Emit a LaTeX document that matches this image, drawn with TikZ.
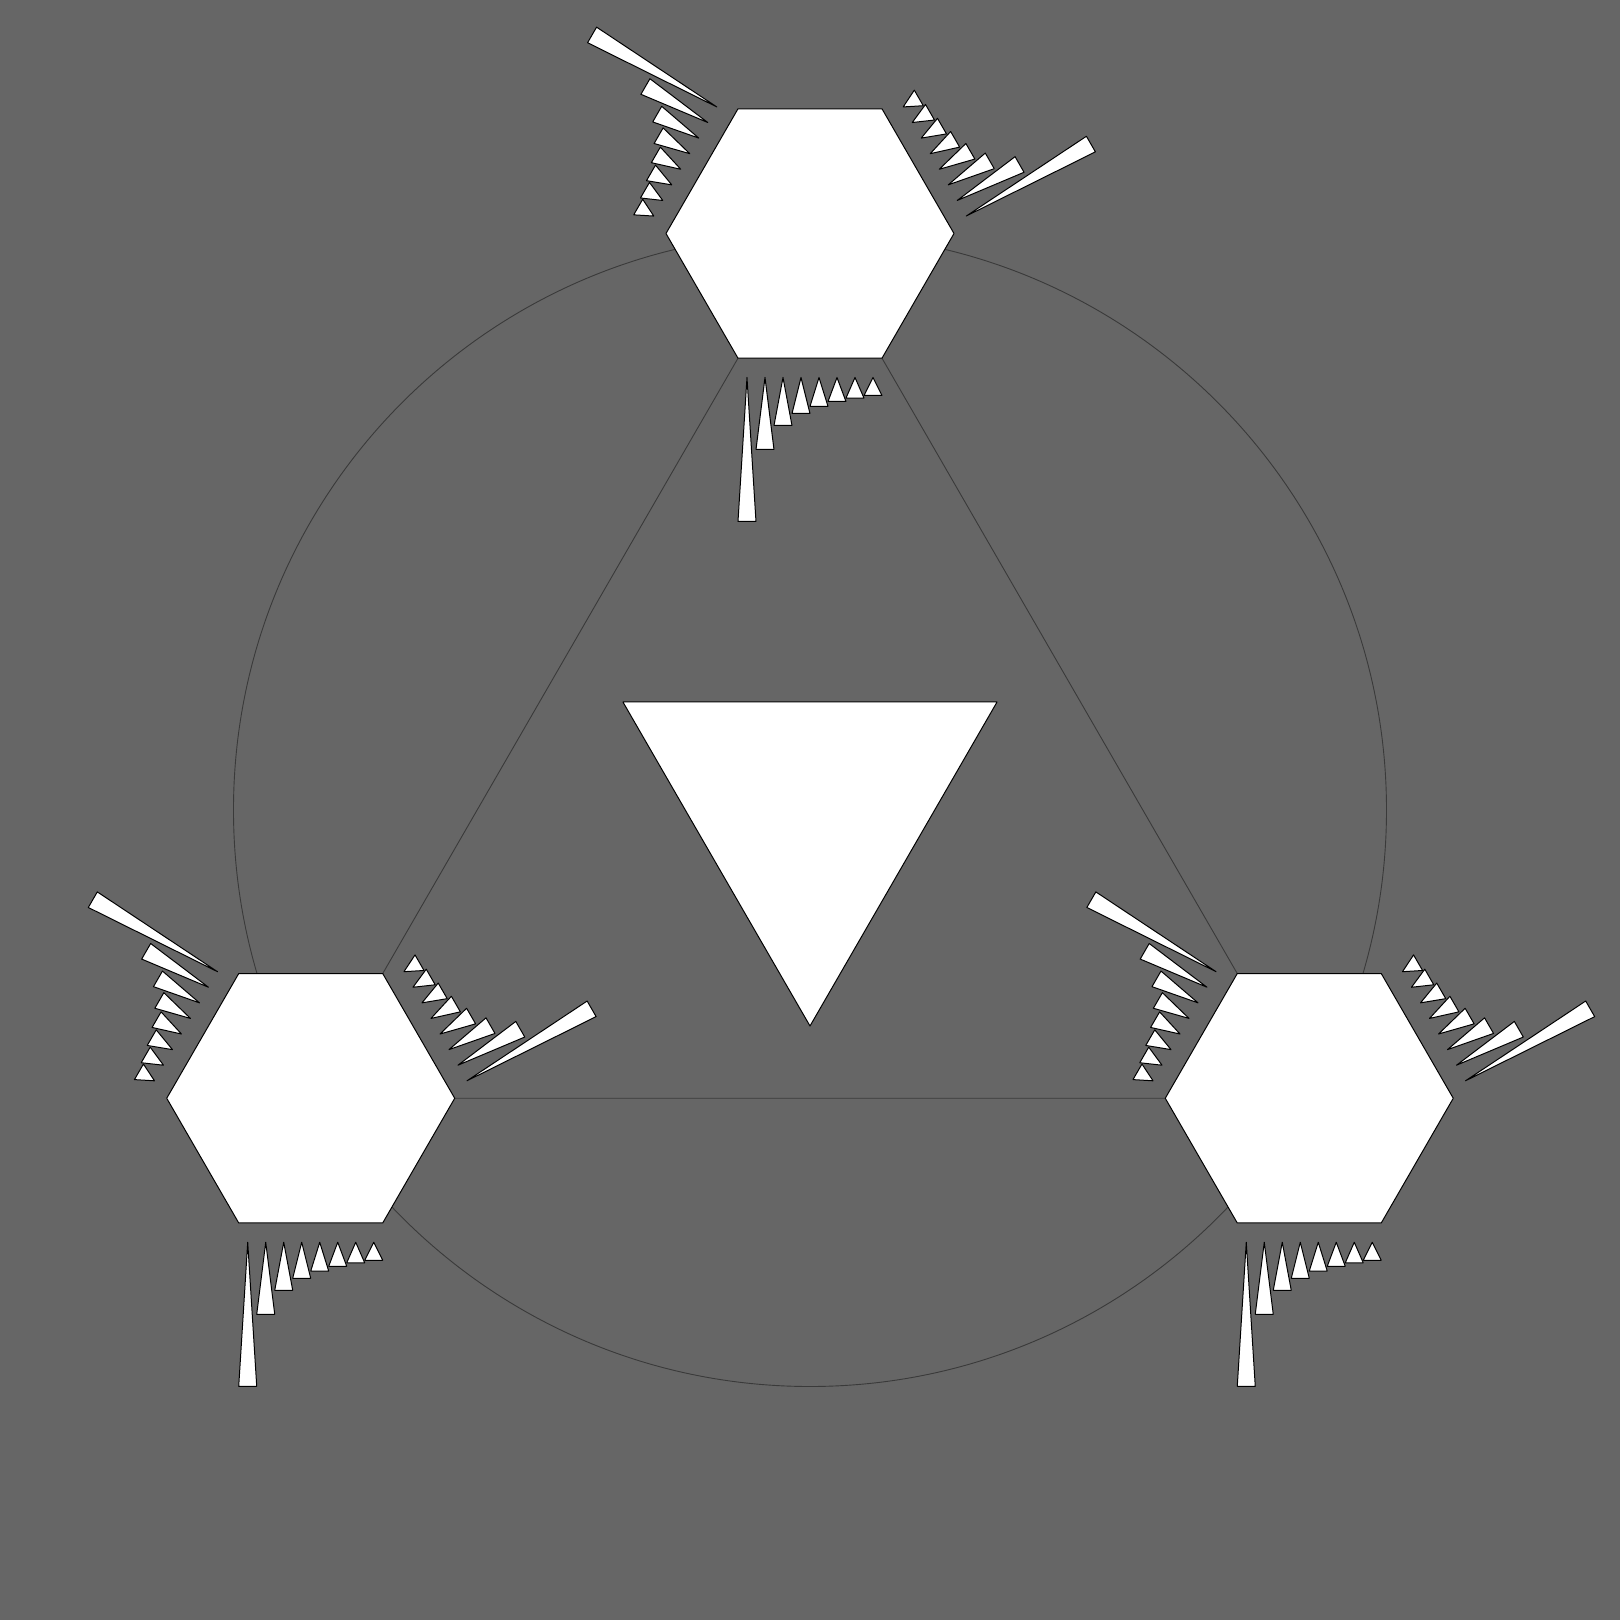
\documentclass[tikz,border=0pt]{standalone}
\definecolor{bggray}{HTML}{666666}
\definecolor{wiregray}{HTML}{3A3A3A}
\begin{document}
\begin{tikzpicture}[x=1pt,y=1pt,
  whiteshape/.style={fill=white,draw=black,line width=1pt,line join=round},
  spikeshape/.style={fill=white,draw=black,line width=1pt,line join=round},
  wireline/.style={draw=wiregray,line width=0.9pt}]
\fill[bggray] (-810,-810) rectangle (810,810);
\useasboundingbox (-810,-810) rectangle (810,810);
\def\Rc{576.5}
\def\Rh{144}
\coordinate (O) at (0,0);
\coordinate (h1) at (90:\Rc);
\coordinate (h2) at (210:\Rc);
\coordinate (h3) at (330:\Rc);
% circle and triangle through hexagon centres
\draw[wireline] (O) circle (\Rc);
\draw[wireline] (h1) -- (h2) -- (h3) -- cycle;
% central triangle
\coordinate (t1) at (30:216);
\coordinate (t2) at (150:216);
\coordinate (t3) at (270:216);
\draw[whiteshape] (t1) -- (t2) -- (t3) -- cycle;
% hexagons with spike groups
\foreach \h in {h1,h2,h3}{
  \begin{scope}[shift={(\h)}]
    \draw[whiteshape] (0:\Rh) -- (60:\Rh) -- (120:\Rh) -- (180:\Rh) -- (240:\Rh) -- (300:\Rh) -- cycle;
  \end{scope}
  \foreach \r in {0,120,240}{
    \begin{scope}[shift={(\h)},rotate=\r]
      \foreach \k in {1,...,8}{
        \pgfmathsetmacro\xl{-\Rh/2+(\k-1)*\Rh/8}
        \pgfmathsetmacro\xr{\xl+\Rh/8}
        \pgfmathsetmacro\xm{\xl+\Rh/16}
        \pgfmathsetmacro\yb{-\Rh-\Rh/\k}
        \draw[spikeshape] (\xm,-\Rh) -- (\xr,\yb) -- (\xl,\yb) -- cycle;
      }
    \end{scope}
  }
}
\end{tikzpicture}
\end{document}
